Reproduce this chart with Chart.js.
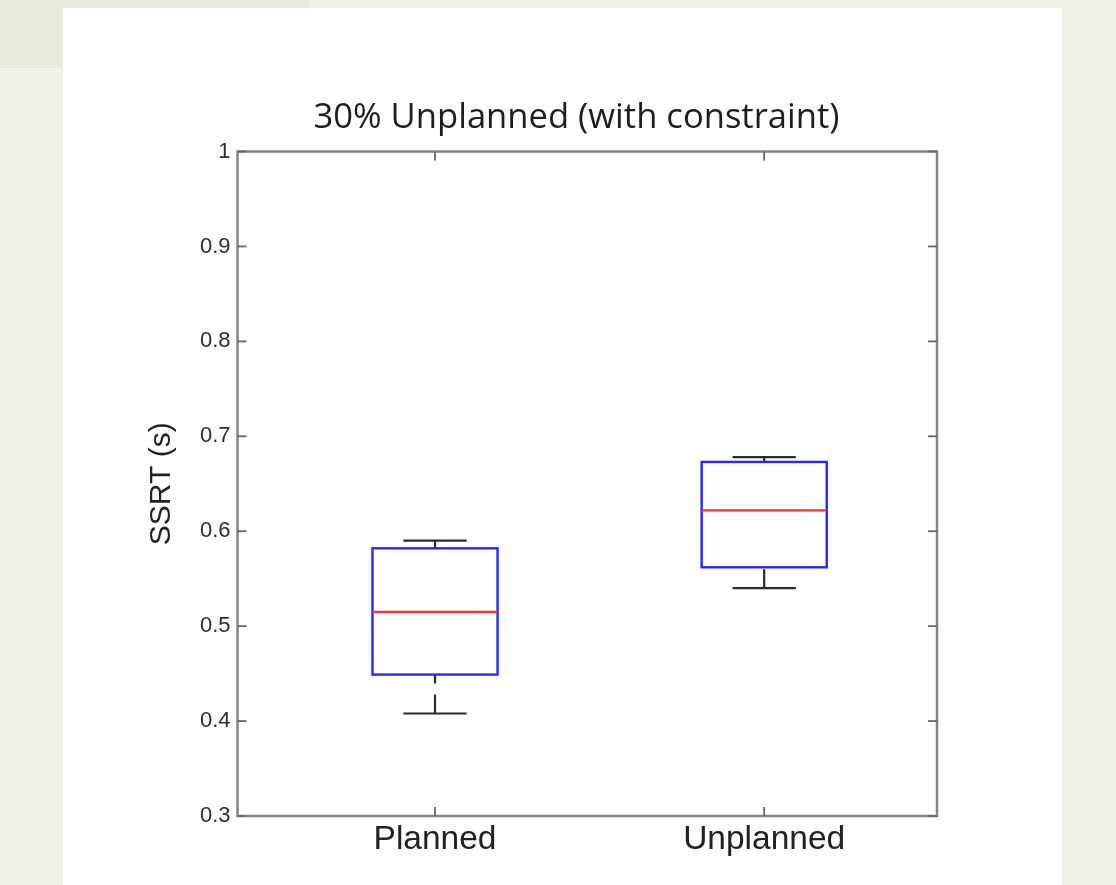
<!DOCTYPE html>
<html>
<head>
<meta charset="utf-8">
<script src="https://cdn.jsdelivr.net/npm/chart.js@4.4.1/dist/chart.umd.min.js"></script>
<style>
  html, body { margin: 0; padding: 0; width: 1116px; height: 885px; overflow: hidden; background: #eef1e4; }
  .shade { position: absolute; background: #e8ecda; }
  #panel { position: absolute; left: 63px; top: 8px; width: 999px; height: 877px; background: #fff; }
  #wrap { position: absolute; left: 63px; top: 8px; width: 946px; height: 877px; }
</style>
</head>
<body>
<div class="shade" style="left:0;top:0;width:310px;height:8px"></div>
<div class="shade" style="left:0;top:0;width:63px;height:68px"></div>
<div id="panel"></div>
<div id="wrap"><canvas id="ssrt" width="946" height="877"></canvas></div>
<script>
// box plot values
const categories = ['Planned', 'Unplanned'];
const whiskerLow = [0.408, 0.540];
const q1 = [0.449, 0.562];
const medians = [0.515, 0.622];
const q3 = [0.582, 0.673];
const whiskerHigh = [0.590, 0.678];
const yTicks = [0.3, 0.4, 0.5, 0.6, 0.7, 0.8, 0.9, 1];

// draws the matlab-style frame, inward ticks and the boxes
const boxPlot = {
  id: 'boxPlot',
  afterDatasetsDraw(chart) {
    const {ctx, chartArea: a, scales: {x, y}} = chart;
    const line = (x1, y1, x2, y2) => {
      ctx.beginPath();
      ctx.moveTo(x1, y1);
      ctx.lineTo(x2, y2);
      ctx.stroke();
    };
    ctx.save();

    ctx.strokeStyle = '#858585';
    ctx.lineWidth = 2.5;
    ctx.strokeRect(a.left, a.top, a.right - a.left, a.bottom - a.top);

    ctx.strokeStyle = '#666';
    ctx.lineWidth = 1.8;
    yTicks.forEach(v => {
      const py = y.getPixelForValue(v);
      line(a.left, py, a.left + 9, py);
      line(a.right, py, a.right - 9, py);
    });
    categories.forEach((c, i) => {
      const px = x.getPixelForValue(i + 1);
      line(px, a.top, px, a.top + 9);
      line(px, a.bottom, px, a.bottom - 9);
    });

    categories.forEach((c, i) => {
      const cx = x.getPixelForValue(i + 1);
      const bl = x.getPixelForValue(i + 1 - 0.19);
      const br = x.getPixelForValue(i + 1 + 0.19);
      const cl = x.getPixelForValue(i + 1 - 0.096);
      const cr = x.getPixelForValue(i + 1 + 0.096);
      const yLo = y.getPixelForValue(whiskerLow[i]);
      const yQ1 = y.getPixelForValue(q1[i]);
      const yMed = y.getPixelForValue(medians[i]);
      const yQ3 = y.getPixelForValue(q3[i]);
      const yHi = y.getPixelForValue(whiskerHigh[i]);

      // whiskers (dashed, starting at the cap)
      ctx.strokeStyle = '#2a2a2a';
      ctx.lineWidth = 2.2;
      ctx.setLineDash([19, 11]);
      line(cx, yLo, cx, yQ1);
      line(cx, yHi, cx, yQ3);
      ctx.setLineDash([]);
      line(cl, yLo, cr, yLo);
      line(cl, yHi, cr, yHi);

      ctx.strokeStyle = '#2626ff';
      ctx.lineWidth = 2.4;
      ctx.strokeRect(bl, yQ3, br - bl, yQ1 - yQ3);

      ctx.strokeStyle = '#ff3030';
      ctx.lineWidth = 2.2;
      line(bl, yMed, br, yMed);
    });
    ctx.restore();
  }
};

new Chart(document.getElementById('ssrt'), {
  type: 'scatter',
  data: {
    datasets: [{
      data: medians.map((m, i) => ({x: i + 1, y: m})),
      pointRadius: 0,
      showLine: false
    }]
  },
  options: {
    responsive: false,
    animation: false,
    devicePixelRatio: 1,
    events: [],
    layout: {padding: {left: 81, top: 0, right: 0, bottom: 0}},
    plugins: {
      legend: {display: false},
      tooltip: {enabled: false},
      title: {
        display: true,
        text: '30% Unplanned (with constraint)',
        color: '#1e1e1e',
        font: {family: '"Open Sans"', size: 34.6, weight: 'normal'},
        padding: {top: 89.6, bottom: 12.4}
      }
    },
    scales: {
      x: {
        type: 'linear',
        min: 0.4,
        max: 2.525,
        grid: {display: false, drawTicks: false},
        border: {display: false},
        afterBuildTicks: s => { s.ticks = categories.map((c, i) => ({value: i + 1})); },
        ticks: {
          padding: 4,
          autoSkip: false,
          maxRotation: 0,
          color: '#222',
          font: {family: '"Liberation Sans"', size: 33.5},
          callback: v => categories[v - 1]
        },
        afterFit: s => { s.height = 69; }
      },
      y: {
        position: 'left',
        min: 0.3,
        max: 1,
        grid: {display: false, drawTicks: false},
        border: {display: false},
        afterBuildTicks: s => { s.ticks = yTicks.map(v => ({value: v})); },
        ticks: {
          padding: 7,
          color: '#2e2e2e',
          font: {family: '"Liberation Sans"', size: 22},
          callback: v => String(+v.toFixed(1))
        },
        title: {
          display: true,
          text: 'SSRT (s)',
          color: '#222',
          font: {family: '"Liberation Sans"', size: 30},
          padding: 0
        },
        afterFit: s => { s.width = 93.5; }
      },
      yRight: {
        position: 'right',
        min: 0.3,
        max: 1,
        grid: {display: false, drawTicks: false},
        border: {display: false},
        ticks: {display: false},
        afterFit: s => { s.width = 72; }
      }
    }
  },
  plugins: [boxPlot]
});
</script>
</body>
</html>
